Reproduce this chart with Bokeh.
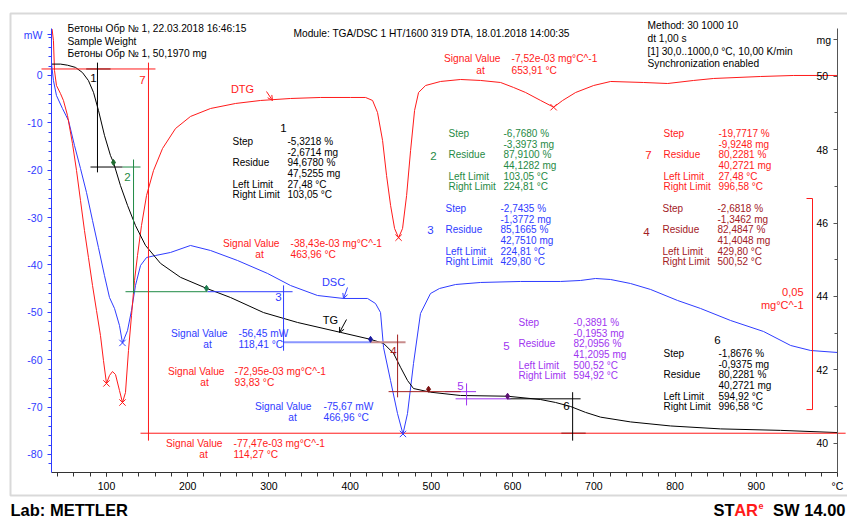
from bokeh.plotting import figure
from bokeh.models import (Range1d, LinearAxis, FixedTicker, Label, Arrow, OpenHead,
                          BoxAnnotation)
from bokeh.embed import file_html
from bokeh.resources import INLINE

# ---------------- data ----------------
# TG curve (temperature in degC, mass in mg)
TG_T = [32.3, 43.4, 52.0, 61.8, 70.4, 77.8, 84.0, 90.1, 97.5, 104.9, 108.6, 117.2, 125.9,
        135.7, 148.0, 166.5, 191.1, 223.1, 252.7, 293.3, 335.2, 388.1, 425.1, 441.1, 453.4,
        462.0, 470.6, 478.0, 498.9, 535.9, 593.8, 634.4, 652.9, 671.4, 689.8, 708.3, 745.2,
        794.5, 856.0, 929.9, 1000.0]
TG_MG = [50.33, 50.33, 50.30, 50.24, 50.10, 49.88, 49.56, 49.07, 48.39, 47.84, 47.65, 47.02,
         46.48, 45.93, 45.39, 44.90, 44.52, 44.22, 43.97, 43.56, 43.29, 43.02, 42.83, 42.72,
         42.45, 42.07, 41.71, 41.49, 41.39, 41.30, 41.28, 41.19, 41.11, 41.00, 40.84, 40.71,
         40.58, 40.47, 40.39, 40.35, 40.29]

# DSC curve (mW)
DSC_T = [32.3, 34.7, 38.4, 45.8, 53.2, 60.6, 68.0, 75.4, 82.8, 90.1, 97.5, 103.7, 109.9,
         116.0, 119.7, 125.9, 130.8, 135.7, 141.9, 149.3, 160.3, 178.8, 203.4, 228.1, 261.3,
         298.3, 326.6, 359.8, 391.8, 421.4, 431.2, 437.4, 441.1, 449.7, 458.3, 465.0, 470.6,
         478.0, 486.6, 498.9, 510.0, 529.8, 560.6, 609.9, 659.0, 683.7, 702.1, 720.6, 745.2,
         769.9, 803.1, 831.4, 868.4, 909.0, 942.3, 966.9, 1000.0]
DSC_MW = [2.53, -1.06, -4.22, -6.97, -9.50, -14.78, -19.63, -24.70, -30.61, -36.31, -42.22,
          -46.86, -49.18, -52.77, -56.45, -53.83, -49.60, -44.33, -40.11, -38.42, -38.00,
          -37.36, -35.88, -36.94, -39.05, -41.79, -44.33, -46.44, -47.07, -47.07, -48.13,
          -50.03, -57.41, -64.38, -71.35, -75.67, -71.35, -60.79, -50.24, -46.02, -44.96,
          -44.12, -43.69, -43.48, -43.48, -43.27, -42.85, -43.06, -43.91, -45.17, -47.49,
          -49.18, -51.72, -54.04, -56.99, -58.05, -58.47]

# DTG curve (1e-3 mg/degC)
DTG_T = [33.0, 34.7, 36.0, 38.4, 43.3, 47.0, 52.0, 58.1, 63.1, 68.0, 72.9, 77.8, 82.8, 87.7,
         92.6, 96.3, 100.0, 103.7, 107.4, 111.1, 116.0, 119.7, 123.4, 127.1, 130.8, 134.5,
         138.2, 143.1, 149.3, 157.9, 169.0, 185.0, 203.4, 228.1, 258.9, 289.7, 326.6, 363.5,
         400.5, 419.0, 427.6, 433.7, 439.9, 444.8, 449.8, 454.7, 459.6, 464.5, 469.5, 474.4,
         479.3, 484.2, 492.9, 511.3, 536.0, 560.6, 585.2, 601.2, 616.0, 634.5, 650.5, 661.6,
         677.6, 699.8, 720.7, 761.3, 790.9, 822.9, 847.5, 905.4, 946.1, 1000.0]
DTG_V = [11.0, 8.29, 1.18, -2.37, -4.26, -5.92, -9.48, -16.11, -22.51, -29.61, -36.72, -43.12,
         -49.75, -55.67, -61.60, -67.52, -72.95, -71.07, -70.13, -70.84, -74.63, -77.47,
         -75.10, -65.15, -56.86, -48.57, -42.64, -35.54, -28.43, -22.51, -17.29, -12.56,
         -9.71, -7.82, -6.63, -5.92, -5.45, -5.21, -5.21, -5.21, -5.92, -8.77, -15.40,
         -23.69, -30.80, -36.25, -38.43, -36.25, -28.43, -17.77, -8.29, -4.03, -2.37, -1.42,
         -0.95, -1.18, -1.66, -2.84, -4.03, -5.92, -7.52, -5.92, -4.03, -2.37, -1.42, -1.66,
         -1.90, -1.18, -0.71, -0.24, 0.0, 0.0]

# Signal value markers
DTG_SIG_T = [100.0, 119.7, 459.6, 650.5]
DTG_SIG_V = [-72.95, -77.47, -38.43, -7.52]
DSC_SIG_T = [119.7, 465.0]
DSC_SIG_V = [-56.45, -75.67]

# Signal value annotations
SIG_VAL = [-7.52, -38.43, -56.45, -72.95, -75.67, -77.47]
SIG_UNIT = ["e-03 mg°C^-1", "e-03 mg°C^-1", " mW", "e-03 mg°C^-1", " mW", "e-03 mg°C^-1"]
SIG_AT = [653.91, 463.96, 118.41, 93.83, 466.96, 114.27]

# Step evaluation results (steps 1..7)
STEP_PCT = [-5.3218, -6.7680, -2.7435, -2.6818, -0.3891, -1.8676, -19.7717]
STEP_MG = [-2.6714, -3.3973, -1.3772, -1.3462, -0.1953, -0.9375, -9.9248]
RES_PCT = [94.6780, 87.9100, 85.1665, 82.4847, 82.0956, 80.2281, 80.2281]
RES_MG = [47.5255, 44.1282, 42.7510, 41.4048, 41.2095, 40.2721, 40.2721]
LEFT_LIM = [27.48, 103.05, 224.81, 429.80, 500.52, 594.92, 27.48]
RIGHT_LIM = [103.05, 224.81, 429.80, 500.52, 594.92, 996.58, 996.58]
START_MG = [50.1970, 47.5255, 44.1282, 42.7510, 41.4048, 41.2095, 50.1970]

# Step construction lines (degC / mg)
STEP_V_T = [88.9, 133.3, 318.0, 458.4, 543.3, 673.9, 151.7]
STEP_V_TOP = [50.37, 47.73, 44.30, 42.96, 41.63, 41.39, 50.37]
STEP_V_BOT = [47.38, 44.08, 42.52, 41.25, 41.03, 40.07, 40.07]
H_START_T0 = [75.0, 119.7, 224.4, 425.1, 517.0, 593.8, 20.0]
H_START_T1 = [105.0, 141.9, 329.1, 468.2, 555.0, 683.7, 160.3]
H_END_T0 = [80.3, 123.4, 318.0, 447.3, 529.8, 660.0, 141.9]
H_END_T1 = [119.7, 224.4, 425.1, 536.0, 597.5, 690.0, 1010.0]

# Points on TG curve
MARK_T = [108.6, 223.1, 425.1, 496.5, 593.8]
MARK_MG = [47.65, 44.22, 42.83, 41.47, 41.28]

X_TICKS = [100, 200, 300, 400, 500, 600, 700, 800, 900]
W_TICKS = [-80, -70, -60, -50, -40, -30, -20, -10, 0]
M_TICKS = [40, 42, 44, 46, 48, 50]
SCALE_BAR = 50.0   # 0,05 mg/degC in 1e-3 units

# ---------------- layout ----------------
FONT = "Liberation Sans"
RED = "#ff1a1a"
BLUE = "#2f3cff"
GREEN = "#1f8a45"
DARKRED = "#a3201f"
PURPLE = "#a034f0"
BLACK = "#000000"
STEP_COLORS = [BLACK, GREEN, BLUE, DARKRED, PURPLE, BLACK, RED]
HS_COLORS = [BLACK, GREEN, BLUE, "#c88c8c", PURPLE, BLACK, RED]
HS_WIDTH = [1, 1, 1, 2, 1, 1, 1]
HE_COLORS = [BLACK, GREEN, "#8a96ff", DARKRED, PURPLE, BLACK, RED]
HE_WIDTH = [1, 1, 2, 1, 1, 1, 1]
MARK_COLORS = ["#1e6b2e", "#1e7b4e", "#1a1aa0", "#7a1010", "#5a1070"]

W, H = 847, 517
# axes box in canvas pixels
AX_L, AX_R, AX_T, AX_B = 51.0, 837.0, 28.0, 471.7

T_MIN, T_MAX = 32.3, 1000.0
W_MIN, W_MAX = -83.74, 9.92
M_MIN, M_MAX = 39.21, 51.30
D_MIN, D_MAX = -93.98, 11.13


def full_x(lo, hi):
    s = (hi - lo) / (AX_R - AX_L)
    return Range1d(lo - AX_L * s, hi + (W - AX_R) * s)


def full_y(lo, hi):
    s = (hi - lo) / (AX_B - AX_T)
    return Range1d(lo - (H - AX_B) * s, hi + AX_T * s)


def tx(X):
    return T_MIN + (X - AX_L) * (T_MAX - T_MIN) / (AX_R - AX_L)


def wy(Y):
    return W_MAX - (Y - AX_T) * (W_MAX - W_MIN) / (AX_B - AX_T)


def dy(Y):
    return D_MAX - (Y - AX_T) * (D_MAX - D_MIN) / (AX_B - AX_T)


p = figure(width=W, height=H, output_backend="svg", toolbar_location=None,
           x_range=full_x(T_MIN, T_MAX), y_range=full_y(W_MIN, W_MAX),
           min_border_left=0, min_border_right=0, min_border_top=0, min_border_bottom=0)
p.extra_y_ranges = {"mg": full_y(M_MIN, M_MAX), "dtg": full_y(D_MIN, D_MAX)}
p.xgrid.visible = False
p.ygrid.visible = False
p.outline_line_color = None
p.background_fill_color = "white"
p.border_fill_color = "white"

# x axis
xa = p.xaxis[0]
xa.fixed_location = W_MIN
xa.bounds = (T_MIN, T_MAX)
xa.ticker = FixedTicker(ticks=X_TICKS + [1000], minor_ticks=list(range(40, 1001, 20)))
ov = {t: str(t) for t in X_TICKS}
ov[1000] = "°C"
xa.major_label_overrides = ov
xa.axis_line_color = "#333333"
xa.major_tick_line_color = "#333333"
xa.minor_tick_line_color = "#333333"
xa.major_tick_out = 4
xa.major_tick_in = 0
xa.minor_tick_out = 4
xa.minor_tick_in = 0
xa.major_label_standoff = 4
xa.major_label_text_font = FONT
xa.major_label_text_font_size = "10.5px"
xa.major_label_text_color = BLACK

# left axis (mW)
ya = p.yaxis[0]
ya.fixed_location = T_MIN
ya.bounds = (W_MIN, W_MAX)
ya.ticker = FixedTicker(ticks=W_TICKS + [8.6], minor_ticks=list(range(-82, 9, 2)))
ovy = {t: str(t) for t in W_TICKS}
ovy[8.6] = "mW"
ya.major_label_overrides = ovy
for attr in ("axis_line_color", "major_tick_line_color", "minor_tick_line_color",
             "major_label_text_color"):
    setattr(ya, attr, BLUE)
ya.major_tick_out = 4
ya.major_tick_in = 0
ya.minor_tick_out = 3
ya.minor_tick_in = 0
ya.major_label_standoff = 5
ya.major_label_text_font = FONT
ya.major_label_text_font_size = "10.5px"

# right axis (mg), labels inside the plot
ra = LinearAxis(y_range_name="mg", fixed_location=T_MAX, bounds=(M_MIN, M_MAX))
ra.ticker = FixedTicker(ticks=M_TICKS + [51], minor_ticks=[41, 43, 45, 47, 49, 51])
ovm = {t: str(t) for t in M_TICKS}
ovm[51] = "mg"
ra.major_label_overrides = ovm
ra.axis_line_color = "#555555"
ra.major_tick_line_color = "#555555"
ra.minor_tick_line_color = "#555555"
ra.major_tick_in = 4
ra.major_tick_out = 0
ra.minor_tick_in = 3
ra.minor_tick_out = 0
ra.major_label_standoff = -21
ra.major_label_text_font = FONT
ra.major_label_text_font_size = "10.5px"
ra.major_label_text_color = BLACK
p.add_layout(ra, "right")

# outer frame
p.add_layout(BoxAnnotation(left=tx(10), right=tx(855), top=wy(13), bottom=wy(495),
                           fill_alpha=0, line_color="#808080", line_width=2))

# curves
p.line(DSC_T, DSC_MW, line_color=BLUE, line_width=1)
p.line(DTG_T, DTG_V, line_color=RED, line_width=1, y_range_name="dtg")
p.line(TG_T, TG_MG, line_color=BLACK, line_width=1, y_range_name="mg")

# step construction lines
p.segment(x0=H_START_T0, x1=H_START_T1, y0=START_MG, y1=START_MG, y_range_name="mg",
          line_color=HS_COLORS, line_width=HS_WIDTH)
p.segment(x0=H_END_T0, x1=H_END_T1, y0=RES_MG, y1=RES_MG, y_range_name="mg",
          line_color=HE_COLORS, line_width=HE_WIDTH)
p.segment(x0=STEP_V_T, x1=STEP_V_T, y0=STEP_V_TOP, y1=STEP_V_BOT, y_range_name="mg",
          line_color=STEP_COLORS, line_width=1)

# markers
p.scatter(MARK_T, MARK_MG, y_range_name="mg", marker="diamond", size=6,
          fill_color=MARK_COLORS, line_color=MARK_COLORS)
p.scatter(DTG_SIG_T, DTG_SIG_V, y_range_name="dtg", marker="x", size=9,
          line_color=RED, line_width=1)
p.scatter(DSC_SIG_T, DSC_SIG_V, marker="x", size=9, line_color=BLUE, line_width=1)

# scale bar for DTG
bar_top = dy(198)
p.segment(x0=[tx(812)], x1=[tx(812)], y0=[bar_top], y1=[bar_top - SCALE_BAR],
          y_range_name="dtg", line_color=RED, line_width=1)
p.segment(x0=[tx(806), tx(806)], x1=[tx(812), tx(812)], y0=[bar_top, bar_top - SCALE_BAR],
          y1=[bar_top, bar_top - SCALE_BAR], y_range_name="dtg", line_color=RED, line_width=1)


def lab(X, Y, text, color=BLACK, size="10px", align="left", baseline="middle", bold=False):
    p.add_layout(Label(x=tx(X), y=wy(Y), text=text, text_color=color, text_font=FONT,
                       text_font_size=size, text_align=align, text_baseline=baseline,
                       text_font_style="bold" if bold else "normal"))


def comma(v, nd):
    return f"{v:.{nd}f}".replace(".", ",")


# header
lab(67, 28, "Бетоны Обр № 1, 22.03.2018 16:46:15", size="10.2px")
lab(67, 41, "Sample Weight", size="10.2px")
lab(67, 53, "Бетоны Обр № 1, 50,1970 mg", size="10.2px")
lab(293, 33, "Module: TGA/DSC 1 HT/1600 319 DTA, 18.01.2018 14:00:35", size="10.2px")
lab(647, 25, "Method: 30 1000 10", size="10.2px")
lab(647, 38, "dt 1,00 s", size="10.2px")
lab(647, 51, "[1] 30,0..1000,0 °C, 10,00 K/min", size="10.2px")
lab(647, 63, "Synchronization enabled", size="10.2px")

# step result blocks: (label x, value x, first row y, number x, number y)
BLOCK_POS = [(232, 287, 141, 283, 127), (448, 503, 133, 433, 155), (445, 500, 208, 430, 229),
             (662, 717, 208, 646, 231), (518, 573, 322, 506, 345), (663, 718, 353, 717, 339),
             (663, 718, 133, 648, 154)]
ROW = 10.65
for i, (lx, vx, y0, nx, ny) in enumerate(BLOCK_POS):
    c = STEP_COLORS[i]
    names = ["Step", "", "Residue", "", "Left Limit", "Right Limit"]
    vals = [comma(STEP_PCT[i], 4) + " %", comma(STEP_MG[i], 4) + " mg",
            comma(RES_PCT[i], 4) + " %", comma(RES_MG[i], 4) + " mg",
            comma(LEFT_LIM[i], 2) + " °C", comma(RIGHT_LIM[i], 2) + " °C"]
    for r in range(6):
        if names[r]:
            lab(lx, y0 + r * ROW, names[r], color=c)
        lab(vx, y0 + r * ROW, vals[r], color=c)
    lab(nx, ny, str(i + 1), color=c, size="11.5px", align="center")

# step numbers at construction lines
NUM_POS = [(93, 77), (127, 176), (278, 296), (393, 350), (460, 385), (566, 405), (142, 79)]
for i, (nx, ny) in enumerate(NUM_POS):
    lab(nx, ny, str(i + 1), color=STEP_COLORS[i], size="11.5px", align="center")

# signal value annotations: (end of "Signal Value", value x, "at" centre, row y, row2 y, colour)
SIG_POS = [(500, 511, 480, 58, 70, RED), (279, 290, 259, 243, 254, RED),
           (227, 238, 207, 333, 344, BLUE), (224, 234, 204, 371, 382, RED),
           (311, 323, 292, 406, 417, BLUE), (222, 233, 203, 443, 454, RED)]
for i, (xe, xv, xa_, y1, y2, c) in enumerate(SIG_POS):
    lab(xe, y1, "Signal Value", color=c, size="10.2px", align="right")
    lab(xv, y1, comma(SIG_VAL[i], 2) + SIG_UNIT[i], color=c, size="10.2px")
    lab(xa_, y2, "at", color=c, size="10.2px", align="center")
    lab(xv, y2, comma(SIG_AT[i], 2) + " °C", color=c, size="10.2px")

# curve names and arrows
lab(242, 88, "DTG", color=RED, size="11px", align="center")
lab(333, 281, "DSC", color=BLUE, size="11px", align="center")
lab(330, 319, "TG", color=BLACK, size="11px", align="center")
for (xs, ys, xe, ye, c) in [(266, 91, 272, 100, RED), (347, 287, 343, 298, BLUE),
                            (346, 319, 339, 332, BLACK)]:
    p.add_layout(Arrow(end=OpenHead(size=5, line_color=c, line_width=1),
                       x_start=tx(xs), y_start=wy(ys), x_end=tx(xe), y_end=wy(ye),
                       line_color=c, line_width=1))

# scale bar text
lab(803, 291, "0,05", color=RED, size="11px", align="right")
lab(803, 304, "mg°C^-1", color=RED, size="11px", align="right")

# footer
lab(10, 509, "Lab: METTLER", size="16.5px", bold=True)
lab(845, 509, "SW 14.00", size="16.5px", align="right", bold=True)
lab(763, 505, "e", color=RED, size="9px", align="right", bold=True)
lab(757.5, 509, "AR", color=RED, size="16.5px", align="right", bold=True)
lab(734, 509, "ST", size="16.5px", align="right", bold=True)

open("out.html", "w").write(file_html(p, INLINE))
